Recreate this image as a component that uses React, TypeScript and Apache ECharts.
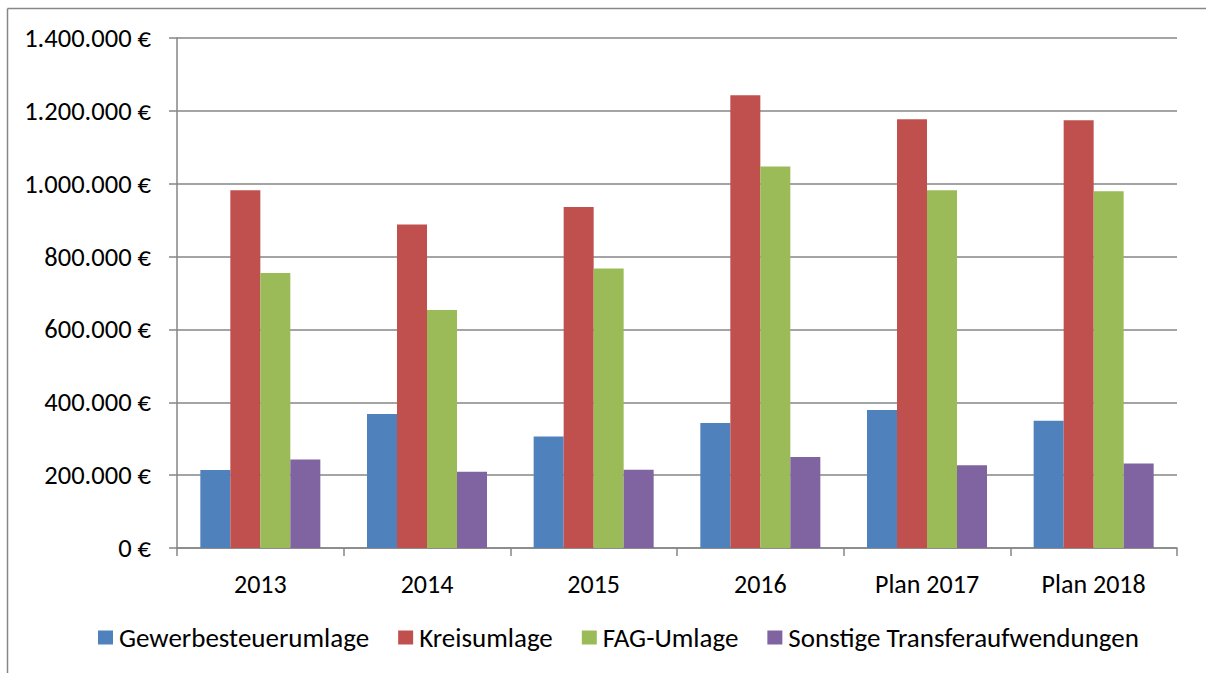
import React, { useEffect, useRef } from "react";
import * as echarts from "echarts";

const categories = ["2013", "2014", "2015", "2016", "Plan 2017", "Plan 2018"];
const gewerbesteuerumlage = [214000, 368000, 306000, 343000, 379000, 349000];
const kreisumlage = [982000, 888000, 936000, 1243000, 1177000, 1174000];
const fagUmlage = [755000, 653000, 767000, 1047000, 982000, 979000];
const sonstige = [243000, 209000, 215000, 250000, 227000, 232000];
const seriesNames = ["Gewerbesteuerumlage", "Kreisumlage", "FAG-Umlage", "Sonstige Transferaufwendungen"];
const colors = ["#4F81BD", "#C0504D", "#9BBB59", "#8064A2"];

const FONT = "Carlito, 'Noto Sans', sans-serif";

function fmt(v: number): string {
  const s = Math.round(v).toString().replace(/\B(?=(\d{3})+(?!\d))/g, ".");
  return s + " €";
}

export default function App() {
  const ref = useRef<HTMLDivElement>(null);
  useEffect(() => {
    if (!ref.current) return;
    const chart = echarts.init(ref.current, undefined, { renderer: "svg" });
    const data = [gewerbesteuerumlage, kreisumlage, fagUmlage, sonstige];
    chart.setOption({
      animation: false,
      backgroundColor: "#ffffff",
      textStyle: { fontFamily: FONT },
      grid: { left: 177, right: 29, top: 38, bottom: 125, containLabel: false },
      graphic: [
        { type: "line", shape: { x1: 7.5, y1: 8.5, x2: 1206, y2: 8.5 }, style: { stroke: "#878787", lineWidth: 1.5 } },
        { type: "line", shape: { x1: 7.5, y1: 8.5, x2: 7.5, y2: 673 }, style: { stroke: "#878787", lineWidth: 1.5 } },
      ],
      legend: {
        data: seriesNames,
        bottom: 17,
        left: 93,
        itemWidth: 15,
        itemHeight: 14,
        itemGap: 29,
        icon: "rect",
        textStyle: { fontFamily: FONT, fontSize: 27, color: "#000", padding: [0, 0, 0, 1] },
      },
      xAxis: {
        type: "category",
        data: categories,
        axisLine: { lineStyle: { color: "#868686", width: 1.5 } },
        axisTick: { show: true, length: 8, lineStyle: { color: "#868686", width: 1.5 } },
        axisLabel: { fontFamily: FONT, fontSize: 26, color: "#000", margin: 23 },
      },
      yAxis: {
        type: "value",
        min: 0,
        max: 1400000,
        interval: 200000,
        axisLine: { show: true, lineStyle: { color: "#868686", width: 1.5 } },
        axisTick: { show: true, length: 8, lineStyle: { color: "#868686", width: 1.5 } },
        splitLine: { lineStyle: { color: "#868686", width: 1.5 } },
        axisLabel: { fontFamily: FONT, fontSize: 26.5, color: "#000", margin: 26, formatter: (v: number) => fmt(v) },
      },
      series: seriesNames.map((name, i) => ({
        name,
        type: "bar",
        data: data[i],
        barWidth: 30,
        barGap: "0%",
        itemStyle: { color: colors[i] },
      })),
    });
    return () => chart.dispose();
  }, []);
  return <div ref={ref} style={{ position: "fixed", left: 0, top: 0, width: 1206, height: 673 }} />;
}
